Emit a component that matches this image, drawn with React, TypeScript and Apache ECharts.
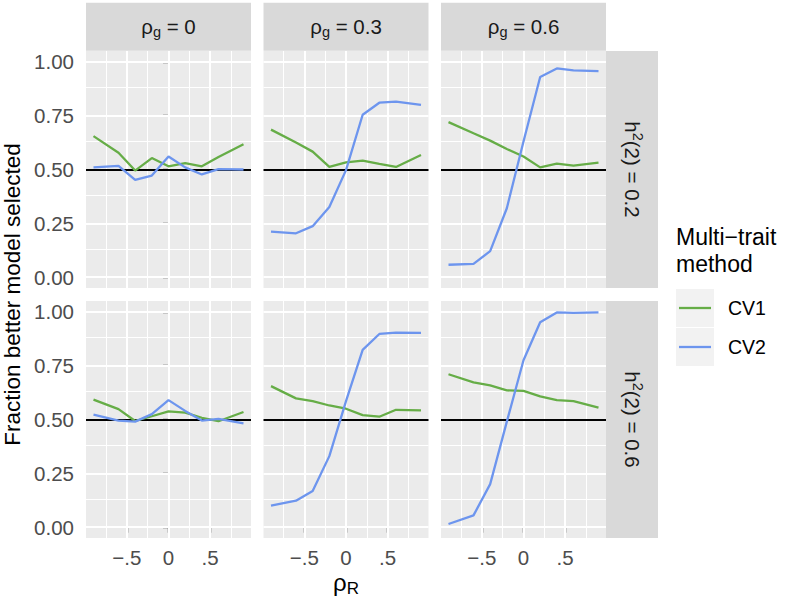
import React, { useEffect, useRef } from "react";
import * as echarts from "echarts";

// ---- data ----
const RHO_R = [-0.9, -0.6, -0.4, -0.2, 0, 0.2, 0.4, 0.6, 0.9];
const RHO_G_LABELS = ["0", "0.3", "0.6"];
const H2_LABELS = ["0.2", "0.6"];
const SERIES_NAMES = ["CV1", "CV2"];
const Y_TICKS = [0, 0.25, 0.5, 0.75, 1];
const Y_MINOR = [0.125, 0.375, 0.625, 0.875];
const X_TICKS = [-0.5, 0, 0.5];
const X_MINOR = [-0.75, -0.25, 0.25, 0.75];
const X_TICK_LABELS = ["\u2212.5", "0", ".5"];
const REF_LINE = 0.5;

// h2(2) = 0.2
const cv1_h02_g0 = [0.655, 0.578, 0.495, 0.553, 0.515, 0.53, 0.515, 0.558, 0.617];
const cv2_h02_g0 = [0.51, 0.517, 0.452, 0.472, 0.56, 0.51, 0.477, 0.502, 0.5];
const cv1_h02_g03 = [0.685, 0.625, 0.583, 0.512, 0.533, 0.541, 0.526, 0.512, 0.567];
const cv2_h02_g03 = [0.212, 0.204, 0.237, 0.326, 0.497, 0.754, 0.81, 0.815, 0.8];
const cv1_h02_g06 = [0.72, 0.668, 0.634, 0.595, 0.56, 0.51, 0.527, 0.518, 0.532];
const cv2_h02_g06 = [0.058, 0.062, 0.121, 0.32, 0.63, 0.929, 0.969, 0.96, 0.957];
// h2(2) = 0.6
const cv1_h06_g0 = [0.592, 0.548, 0.493, 0.515, 0.538, 0.532, 0.508, 0.492, 0.535];
const cv2_h06_g0 = [0.523, 0.495, 0.49, 0.525, 0.59, 0.54, 0.495, 0.503, 0.482];
const cv1_h06_g03 = [0.655, 0.598, 0.585, 0.565, 0.55, 0.52, 0.513, 0.545, 0.542];
const cv2_h06_g03 = [0.1, 0.123, 0.168, 0.33, 0.585, 0.823, 0.897, 0.903, 0.902];
const cv1_h06_g06 = [0.71, 0.672, 0.658, 0.635, 0.633, 0.607, 0.59, 0.585, 0.555];
const cv2_h06_g06 = [0.015, 0.055, 0.2, 0.49, 0.775, 0.951, 0.997, 0.995, 0.997];

const PANELS = [
  [
    [cv1_h02_g0, cv2_h02_g0],
    [cv1_h02_g03, cv2_h02_g03],
    [cv1_h02_g06, cv2_h02_g06],
  ],
  [
    [cv1_h06_g0, cv2_h06_g0],
    [cv1_h06_g03, cv2_h06_g03],
    [cv1_h06_g06, cv2_h06_g06],
  ],
];

// ---- style / layout ----
const COLORS = ["#66AD47", "#6D95EE"];
const FONT = "'Liberation Sans', Arial, Helvetica, sans-serif";
const COL_LEFT = [86, 263.5, 441];
const PANEL_W = 165;
const ROW_TOP = [51, 301];
const PANEL_H = 237;
const STRIP_TOP = 2.7;
const STRIP_H = 48;
const RSTRIP_X = 606;
const RSTRIP_W = 52;
const TICK_FONT = 20.5;

function tickLabel(v: number) {
  for (let i = 0; i < X_TICKS.length; i++) {
    if (Math.abs(X_TICKS[i] - v) < 1e-9) return X_TICK_LABELS[i];
  }
  return "";
}

function buildOption() {
  const grid: any[] = [];
  const xAxis: any[] = [];
  const yAxis: any[] = [];
  const series: any[] = [];
  const graphic: any[] = [];

  for (let r = 0; r < 2; r++) {
    for (let c = 0; c < 3; c++) {
      const idx = r * 3 + c;
      grid.push({
        left: COL_LEFT[c],
        top: ROW_TOP[r],
        width: PANEL_W,
        height: PANEL_H,
        show: true,
        backgroundColor: "#EBEBEB",
        borderWidth: 0,
      });
      xAxis.push({
        type: "value",
        gridIndex: idx,
        min: -0.99,
        max: 0.99,
        axisLine: { show: false },
        splitLine: { show: false },
        axisTick: {
          show: r === 1,
          customValues: X_TICKS,
          length: 5.5,
          lineStyle: { color: "#333333", width: 1.4 },
        },
        axisLabel: {
          show: r === 1,
          customValues: X_TICKS,
          formatter: (v: number) => tickLabel(v),
          color: "#4D4D4D",
          fontSize: TICK_FONT,
          fontFamily: FONT,
          margin: 9,
        },
      });
      yAxis.push({
        type: "value",
        gridIndex: idx,
        min: -0.05,
        max: 1.05,
        axisLine: { show: false },
        splitLine: { show: false },
        axisTick: {
          show: c === 0,
          customValues: Y_TICKS,
          length: 5.5,
          lineStyle: { color: "#333333", width: 1.4 },
        },
        axisLabel: {
          show: c === 0,
          customValues: Y_TICKS,
          formatter: (v: number) => v.toFixed(2),
          color: "#4D4D4D",
          fontSize: TICK_FONT,
          fontFamily: FONT,
          margin: 12,
        },
      });

      const gridLines: any[] = [];
      X_MINOR.forEach((v) =>
        gridLines.push({ xAxis: v, lineStyle: { color: "#FFFFFF", width: 1, type: "solid" } })
      );
      Y_MINOR.forEach((v) =>
        gridLines.push({ yAxis: v, lineStyle: { color: "#FFFFFF", width: 1, type: "solid" } })
      );
      X_TICKS.forEach((v) =>
        gridLines.push({ xAxis: v, lineStyle: { color: "#FFFFFF", width: 2.1, type: "solid" } })
      );
      Y_TICKS.forEach((v) =>
        gridLines.push({ yAxis: v, lineStyle: { color: "#FFFFFF", width: 2.1, type: "solid" } })
      );
      gridLines.push({ yAxis: REF_LINE, lineStyle: { color: "#000000", width: 2, type: "solid" } });

      PANELS[r][c].forEach((vals: number[], s: number) => {
        series.push({
          name: SERIES_NAMES[s],
          type: "line",
          xAxisIndex: idx,
          yAxisIndex: idx,
          data: RHO_R.map((x, i) => [x, vals[i]]),
          symbol: "none",
          showSymbol: false,
          silent: true,
          z: 10,
          lineStyle: { color: COLORS[s], width: 2.3 },
          itemStyle: { color: COLORS[s] },
          markLine:
            s === 0
              ? {
                  silent: true,
                  z: 3,
                  symbol: ["none", "none"],
                  label: { show: false },
                  emphasis: { disabled: true },
                  data: gridLines,
                }
              : undefined,
        });
      });
    }
  }

  // top strips
  for (let c = 0; c < 3; c++) {
    graphic.push({
      type: "rect",
      shape: { x: COL_LEFT[c], y: STRIP_TOP, width: PANEL_W, height: STRIP_H },
      style: { fill: "#D9D9D9" },
      silent: true,
    });
    graphic.push({
      type: "text",
      x: COL_LEFT[c] + PANEL_W / 2,
      y: STRIP_TOP + STRIP_H / 2,
      silent: true,
      style: {
        text: `{a|\u03C1}{b|g}{c| = ${RHO_G_LABELS[c]}}`,
        align: "center",
        verticalAlign: "middle",
        fill: "#1A1A1A",
        rich: {
          a: { fontSize: 20.5, fontFamily: FONT, fill: "#1A1A1A" },
          b: { fontSize: 14.5, fontFamily: FONT, fill: "#1A1A1A", padding: [11, 0, 0, 0] },
          c: { fontSize: 20.5, fontFamily: FONT, fill: "#1A1A1A" },
        },
      },
    });
  }
  // right strips
  for (let r = 0; r < 2; r++) {
    graphic.push({
      type: "rect",
      shape: { x: RSTRIP_X, y: ROW_TOP[r], width: RSTRIP_W, height: PANEL_H },
      style: { fill: "#D9D9D9" },
      silent: true,
    });
    graphic.push({
      type: "text",
      x: RSTRIP_X + RSTRIP_W / 2,
      y: ROW_TOP[r] + PANEL_H / 2,
      rotation: -Math.PI / 2,
      silent: true,
      style: {
        text: `{a|h}{b|2}{c|(2) = ${H2_LABELS[r]}}`,
        align: "center",
        verticalAlign: "middle",
        fill: "#1A1A1A",
        rich: {
          a: { fontSize: 20.5, fontFamily: FONT, fill: "#1A1A1A" },
          b: { fontSize: 14.5, fontFamily: FONT, fill: "#1A1A1A", padding: [0, 0, 12, 0] },
          c: { fontSize: 20.5, fontFamily: FONT, fill: "#1A1A1A" },
        },
      },
    });
  }

  // axis titles
  graphic.push({
    type: "text",
    x: 12,
    y: (ROW_TOP[0] + ROW_TOP[1] + PANEL_H) / 2,
    rotation: Math.PI / 2,
    silent: true,
    style: {
      text: "Fraction better model selected",
      align: "center",
      verticalAlign: "middle",
      fontSize: 22.5,
      fontFamily: FONT,
      fill: "#000000",
    },
  });
  graphic.push({
    type: "text",
    x: (COL_LEFT[0] + RSTRIP_X) / 2,
    y: 582,
    silent: true,
    style: {
      text: "{a|\u03C1}{b|R}",
      align: "center",
      verticalAlign: "middle",
      rich: {
        a: { fontSize: 24, fontFamily: FONT, fill: "#000000" },
        b: { fontSize: 17, fontFamily: FONT, fill: "#000000", padding: [12, 0, 0, 0] },
      },
    },
  });

  // legend
  graphic.push({
    type: "text",
    x: 676,
    y: 237,
    silent: true,
    style: { text: "Multi\u2212trait", align: "left", verticalAlign: "middle", fontSize: 23, fontFamily: FONT, fill: "#000" },
  });
  graphic.push({
    type: "text",
    x: 676,
    y: 264,
    silent: true,
    style: { text: "method", align: "left", verticalAlign: "middle", fontSize: 23, fontFamily: FONT, fill: "#000" },
  });
  SERIES_NAMES.forEach((name, i) => {
    const yTop = 289 + i * 39;
    graphic.push({
      type: "rect",
      shape: { x: 676, y: yTop, width: 38, height: 38 },
      style: { fill: "#F2F2F2" },
      silent: true,
    });
    graphic.push({
      type: "line",
      shape: { x1: 679, y1: yTop + 19, x2: 711, y2: yTop + 19 },
      style: { stroke: COLORS[i], lineWidth: 2.3 },
      silent: true,
    });
    graphic.push({
      type: "text",
      x: 728,
      y: yTop + 19,
      silent: true,
      style: { text: name, align: "left", verticalAlign: "middle", fontSize: 19.5, fontFamily: FONT, fill: "#000" },
    });
  });

  return {
    animation: false,
    backgroundColor: "#FFFFFF",
    grid,
    xAxis,
    yAxis,
    series,
    graphic,
  };
}

export default function App() {
  const ref = useRef<HTMLDivElement>(null);
  useEffect(() => {
    document.body.style.margin = "0";
    if (!ref.current) return;
    const chart = echarts.init(ref.current, null, { renderer: "svg" });
    chart.setOption(buildOption() as any);
    return () => chart.dispose();
  }, []);
  return <div ref={ref} style={{ width: 789, height: 599 }} />;
}
